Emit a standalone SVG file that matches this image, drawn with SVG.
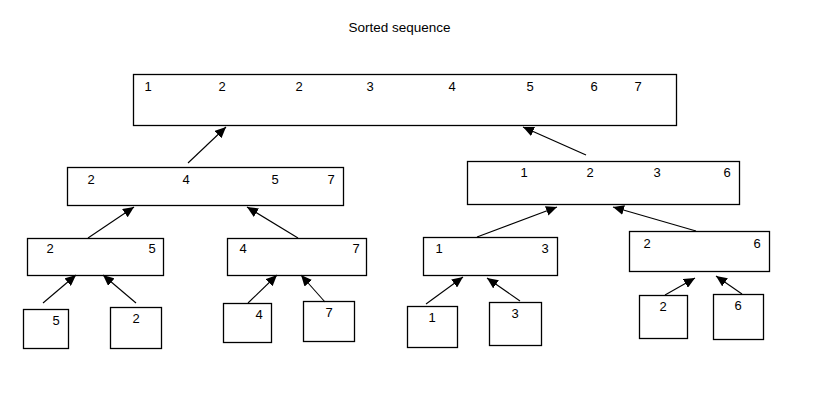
<svg xmlns="http://www.w3.org/2000/svg" width="825" height="398" viewBox="0 0 825 398">
<defs>
<marker id="ah" markerUnits="userSpaceOnUse" markerWidth="12" markerHeight="10" refX="11" refY="5" orient="auto">
<path d="M0,0 L11,5 L0,10 Z" fill="#000"/>
</marker>
<style>
.box{fill:#fff;stroke:#000;stroke-width:1.3}
.t{font-family:"Liberation Sans",Arial,sans-serif;font-size:13px;fill:#000;text-anchor:middle}
.title{font-size:13.5px}
.c{stroke:#000;stroke-width:1.1;fill:none;marker-end:url(#ah)}
</style>
</defs>
<rect width="825" height="398" fill="#fff"/>
<text class="t title" x="399.5" y="32">Sorted sequence</text>

<g id="sorted">
<rect class="box" x="133.5" y="74.5" width="543" height="51"/>
<text class="t" x="148" y="91">1</text>
<text class="t" x="222" y="91">2</text>
<text class="t" x="299" y="91">2</text>
<text class="t" x="370" y="91">3</text>
<text class="t" x="452" y="91">4</text>
<text class="t" x="530" y="91">5</text>
<text class="t" x="594" y="91">6</text>
<text class="t" x="638" y="91">7</text>
</g>

<g id="left2">
<rect class="box" x="67.5" y="167.5" width="276" height="38"/>
<text class="t" x="91" y="184">2</text>
<text class="t" x="186" y="184">4</text>
<text class="t" x="275" y="184">5</text>
<text class="t" x="331" y="184">7</text>
</g>

<g id="right2">
<rect class="box" x="467.5" y="161.5" width="272" height="43"/>
<text class="t" x="524" y="177">1</text>
<text class="t" x="590" y="177">2</text>
<text class="t" x="657" y="177">3</text>
<text class="t" x="727" y="177">6</text>
</g>

<g id="n25">
<rect class="box" x="27.5" y="238.5" width="136" height="37"/>
<text class="t" x="50" y="253">2</text>
<text class="t" x="152" y="253">5</text>
</g>
<g id="n47">
<rect class="box" x="227.5" y="238.5" width="139" height="37"/>
<text class="t" x="243" y="253">4</text>
<text class="t" x="356" y="253">7</text>
</g>
<g id="n13">
<rect class="box" x="423.5" y="237.5" width="134" height="38"/>
<text class="t" x="439" y="253">1</text>
<text class="t" x="545" y="253">3</text>
</g>
<g id="n26">
<rect class="box" x="629.5" y="231.5" width="140" height="40"/>
<text class="t" x="647" y="248">2</text>
<text class="t" x="757" y="248">6</text>
</g>

<g id="leaf5">
<rect class="box" x="23.5" y="309.5" width="45" height="39"/>
<text class="t" x="56" y="325">5</text>
</g>
<g id="leaf2a">
<rect class="box" x="110.5" y="307.5" width="51" height="41"/>
<text class="t" x="136" y="323">2</text>
</g>
<g id="leaf4">
<rect class="box" x="223.5" y="303.5" width="48" height="39"/>
<text class="t" x="259" y="319">4</text>
</g>
<g id="leaf7">
<rect class="box" x="303.5" y="301.5" width="51" height="40"/>
<text class="t" x="329" y="317">7</text>
</g>
<g id="leaf1">
<rect class="box" x="407.5" y="306.5" width="50" height="41"/>
<text class="t" x="432" y="322">1</text>
</g>
<g id="leaf3">
<rect class="box" x="489.5" y="302.5" width="52" height="43"/>
<text class="t" x="515" y="318">3</text>
</g>
<g id="leaf2b">
<rect class="box" x="639.5" y="295.5" width="48" height="43"/>
<text class="t" x="663" y="311">2</text>
</g>
<g id="leaf6">
<rect class="box" x="713.5" y="294.5" width="50" height="45"/>
<text class="t" x="738" y="310">6</text>
</g>

<g id="connectors">
<line class="c" x1="188" y1="163" x2="226" y2="127"/>
<line class="c" x1="586" y1="155" x2="523" y2="127"/>
<line class="c" x1="88" y1="238" x2="134" y2="207"/>
<line class="c" x1="298" y1="238" x2="247" y2="207"/>
<line class="c" x1="477" y1="237" x2="557" y2="207"/>
<line class="c" x1="696" y1="231" x2="613" y2="207"/>
<line class="c" x1="43" y1="303" x2="76" y2="275"/>
<line class="c" x1="136" y1="303" x2="103" y2="275"/>
<line class="c" x1="248" y1="303" x2="277" y2="275"/>
<line class="c" x1="325" y1="302" x2="301" y2="275"/>
<line class="c" x1="426" y1="304" x2="463" y2="277"/>
<line class="c" x1="520" y1="301" x2="487" y2="278"/>
<line class="c" x1="665" y1="295" x2="695" y2="278"/>
<line class="c" x1="742" y1="294" x2="716" y2="276"/>
</g>
</svg>
